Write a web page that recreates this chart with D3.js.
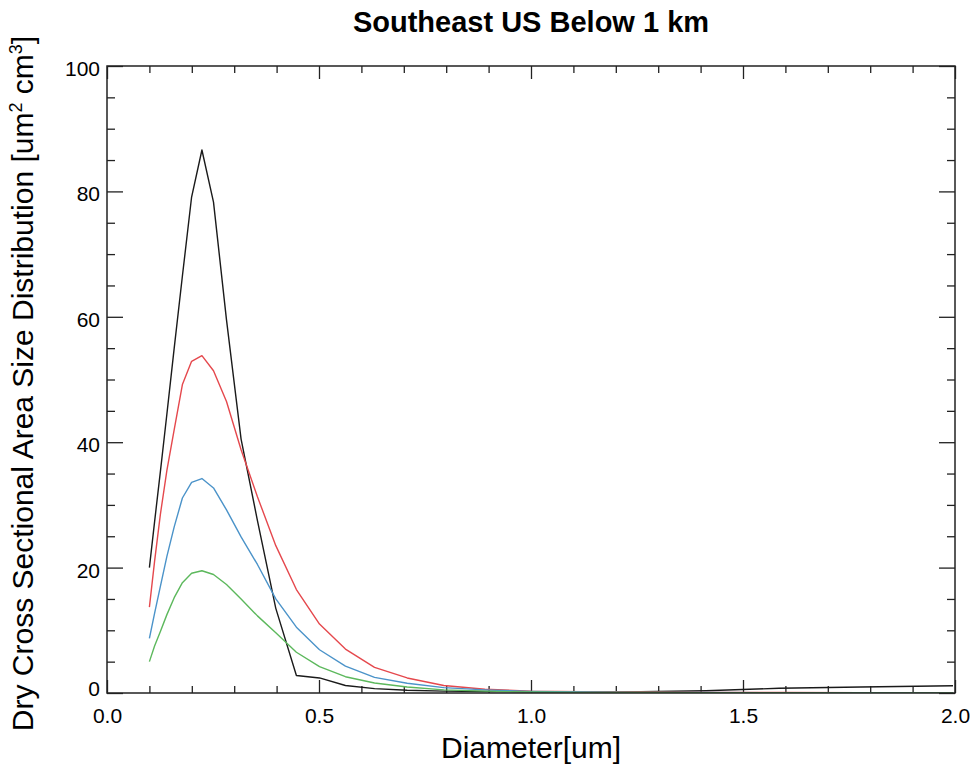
<!DOCTYPE html>
<html>
<head>
<meta charset="utf-8">
<script src="https://cdn.jsdelivr.net/npm/d3@7"></script>
<style>
  body { margin: 0; background: #fff; }
  svg { display: block; font-family: "Liberation Sans", Arial, sans-serif; }
</style>
</head>
<body>
<svg id="chart" width="979" height="779"></svg>
<script>
// diameters: log spaced, 20 bins per decade starting at 0.1 um
const diameters = d3.range(27).map((i) => 0.1 * Math.pow(10, i / 20));

const blackSeries = [20, 27.3, 35.3, 44.5, 55, 66.5, 79.1, 86.6, 78.3, 59.5, 40.5, 27.5, 13.5,
  2.8, 2.4, 1.2, 0.7, 0.45, 0.3, 0.25, 0.2, 0.2, 0.2, 0.35, 0.75, 0.95, 1.15];
const redSeries = [13.7, 21, 28.5, 35.5, 42, 49.2, 52.9, 53.8, 51.4, 46.5, 38.8, 31.3, 23.5,
  16.5, 11.0, 7.0, 4.1, 2.4, 1.2, 0.6, 0.3, 0.2, 0.15, 0.1, 0.08, 0.05, 0.04];
const blueSeries = [8.7, 12.7, 17, 21.8, 26.5, 31.1, 33.6, 34.2, 32.7, 29.2, 24.9, 20.5, 15.0,
  10.5, 6.9, 4.3, 2.5, 1.55, 0.85, 0.5, 0.25, 0.15, 0.1, 0.07, 0.05, 0.03, 0.02];
const greenSeries = [5.0, 7.5, 9.8, 12.5, 15.2, 17.6, 19.1, 19.5, 18.9, 17.3, 15.0, 12.3, 9.6,
  6.5, 4.2, 2.6, 1.6, 0.95, 0.5, 0.3, 0.15, 0.1, 0.07, 0.05, 0.03, 0.02, 0.01];

const xTicks = [0, 0.5, 1.0, 1.5, 2.0];
const yTicks = [0, 20, 40, 60, 80, 100];

const series = [
  { name: "black", values: blackSeries, color: "#1a1a1a" },
  { name: "red", values: redSeries, color: "#e5484d" },
  { name: "blue", values: blueSeries, color: "#4b93c9" },
  { name: "green", values: greenSeries, color: "#5cb85c" }
];

const svg = d3.select("#chart");
const margin = { left: 107, right: 24, top: 66, bottom: 86 };
const width = 979, height = 779;

const x = d3.scaleLinear().domain([0, 2]).range([margin.left, width - margin.right]);
const y = d3.scaleLinear().domain([0, 100]).range([height - margin.bottom, margin.top]);

svg.append("defs").append("clipPath").attr("id", "plot-clip")
  .append("rect")
  .attr("x", x(0)).attr("y", y(100))
  .attr("width", x(2) - x(0)).attr("height", y(0) - y(100));

// IDL-style ticks: inward, on all four sides
const xMajorLen = 13, xMinorLen = 7, yMajorLen = 16, yMinorLen = 8;
const axisColor = "#222";

const xMinor = d3.range(0, 2.0001, 0.1).filter((v) => !xTicks.some((t) => Math.abs(t - v) < 1e-6));
const yMinor = d3.range(0, 100.001, 5).filter((v) => v % 20 !== 0);

const bottomAxis = d3.axisBottom(x).tickValues(xTicks).tickFormat(d3.format(".1f"))
  .tickSizeInner(-xMajorLen).tickSizeOuter(0).tickPadding(15);
const topAxis = d3.axisTop(x).tickValues(xTicks).tickFormat("").tickSizeInner(-xMajorLen).tickSizeOuter(0);
const leftAxis = d3.axisLeft(y).tickValues(yTicks).tickFormat(d3.format("d"))
  .tickSizeInner(-yMajorLen).tickSizeOuter(0).tickPadding(7);
const rightAxis = d3.axisRight(y).tickValues(yTicks).tickFormat("").tickSizeInner(-yMajorLen).tickSizeOuter(0);

function styleAxis(g) {
  g.select(".domain").remove();
  g.selectAll("line").attr("stroke", axisColor).attr("stroke-width", 1.3);
  g.selectAll("text").attr("fill", "#000").attr("font-size", 21);
}

svg.append("g").attr("transform", `translate(0,${y(0)})`).call(bottomAxis).call(styleAxis);
svg.append("g").attr("transform", `translate(0,${y(100)})`).call(topAxis).call(styleAxis);
svg.append("g").attr("transform", `translate(${x(0)},0)`).call(leftAxis).call(styleAxis)
  .selectAll("text").attr("dy", (d) => (d === 0 ? "0.1em" : "0.45em"));
svg.append("g").attr("transform", `translate(${x(2)},0)`).call(rightAxis).call(styleAxis);

// minor ticks
svg.append("g").attr("transform", `translate(0,${y(0)})`)
  .call(d3.axisBottom(x).tickValues(xMinor).tickFormat("").tickSizeInner(-xMinorLen).tickSizeOuter(0)).call(styleAxis);
svg.append("g").attr("transform", `translate(0,${y(100)})`)
  .call(d3.axisTop(x).tickValues(xMinor).tickFormat("").tickSizeInner(-xMinorLen).tickSizeOuter(0)).call(styleAxis);
svg.append("g").attr("transform", `translate(${x(0)},0)`)
  .call(d3.axisLeft(y).tickValues(yMinor).tickFormat("").tickSizeInner(-yMinorLen).tickSizeOuter(0)).call(styleAxis);
svg.append("g").attr("transform", `translate(${x(2)},0)`)
  .call(d3.axisRight(y).tickValues(yMinor).tickFormat("").tickSizeInner(-yMinorLen).tickSizeOuter(0)).call(styleAxis);

// lines
const line = d3.line()
  .x((d, i) => x(diameters[i]))
  .y((d) => y(d));

svg.append("g").attr("clip-path", "url(#plot-clip)")
  .selectAll("path")
  .data(series)
  .join("path")
  .attr("fill", "none")
  .attr("stroke", (s) => s.color)
  .attr("stroke-width", 1.4)
  .attr("stroke-linejoin", "round")
  .attr("d", (s) => line(s.values));

// frame
svg.append("rect")
  .attr("x", x(0)).attr("y", y(100))
  .attr("width", x(2) - x(0)).attr("height", y(0) - y(100))
  .attr("fill", "none").attr("stroke", axisColor).attr("stroke-width", 1.5);

// titles
svg.append("text")
  .attr("x", (x(0) + x(2)) / 2).attr("y", 32)
  .attr("text-anchor", "middle").attr("font-size", 29).attr("font-weight", "bold")
  .text("Southeast US Below 1 km");

svg.append("text")
  .attr("x", (x(0) + x(2)) / 2).attr("y", 758)
  .attr("text-anchor", "middle").attr("font-size", 30)
  .text("Diameter[um]");

const yLabel = svg.append("text")
  .attr("transform", `translate(33,${(y(0) + y(100)) / 2 + 4}) rotate(-90)`)
  .attr("text-anchor", "middle").attr("font-size", 30);
yLabel.append("tspan").text("Dry Cross Sectional Area Size Distribution [um");
yLabel.append("tspan").attr("font-size", 18).attr("dy", -11).text("2");
yLabel.append("tspan").attr("dy", 11).text(" cm");
yLabel.append("tspan").attr("font-size", 18).attr("dy", -11).text("3");
yLabel.append("tspan").attr("dy", 11).text("]");
</script>
</body>
</html>
